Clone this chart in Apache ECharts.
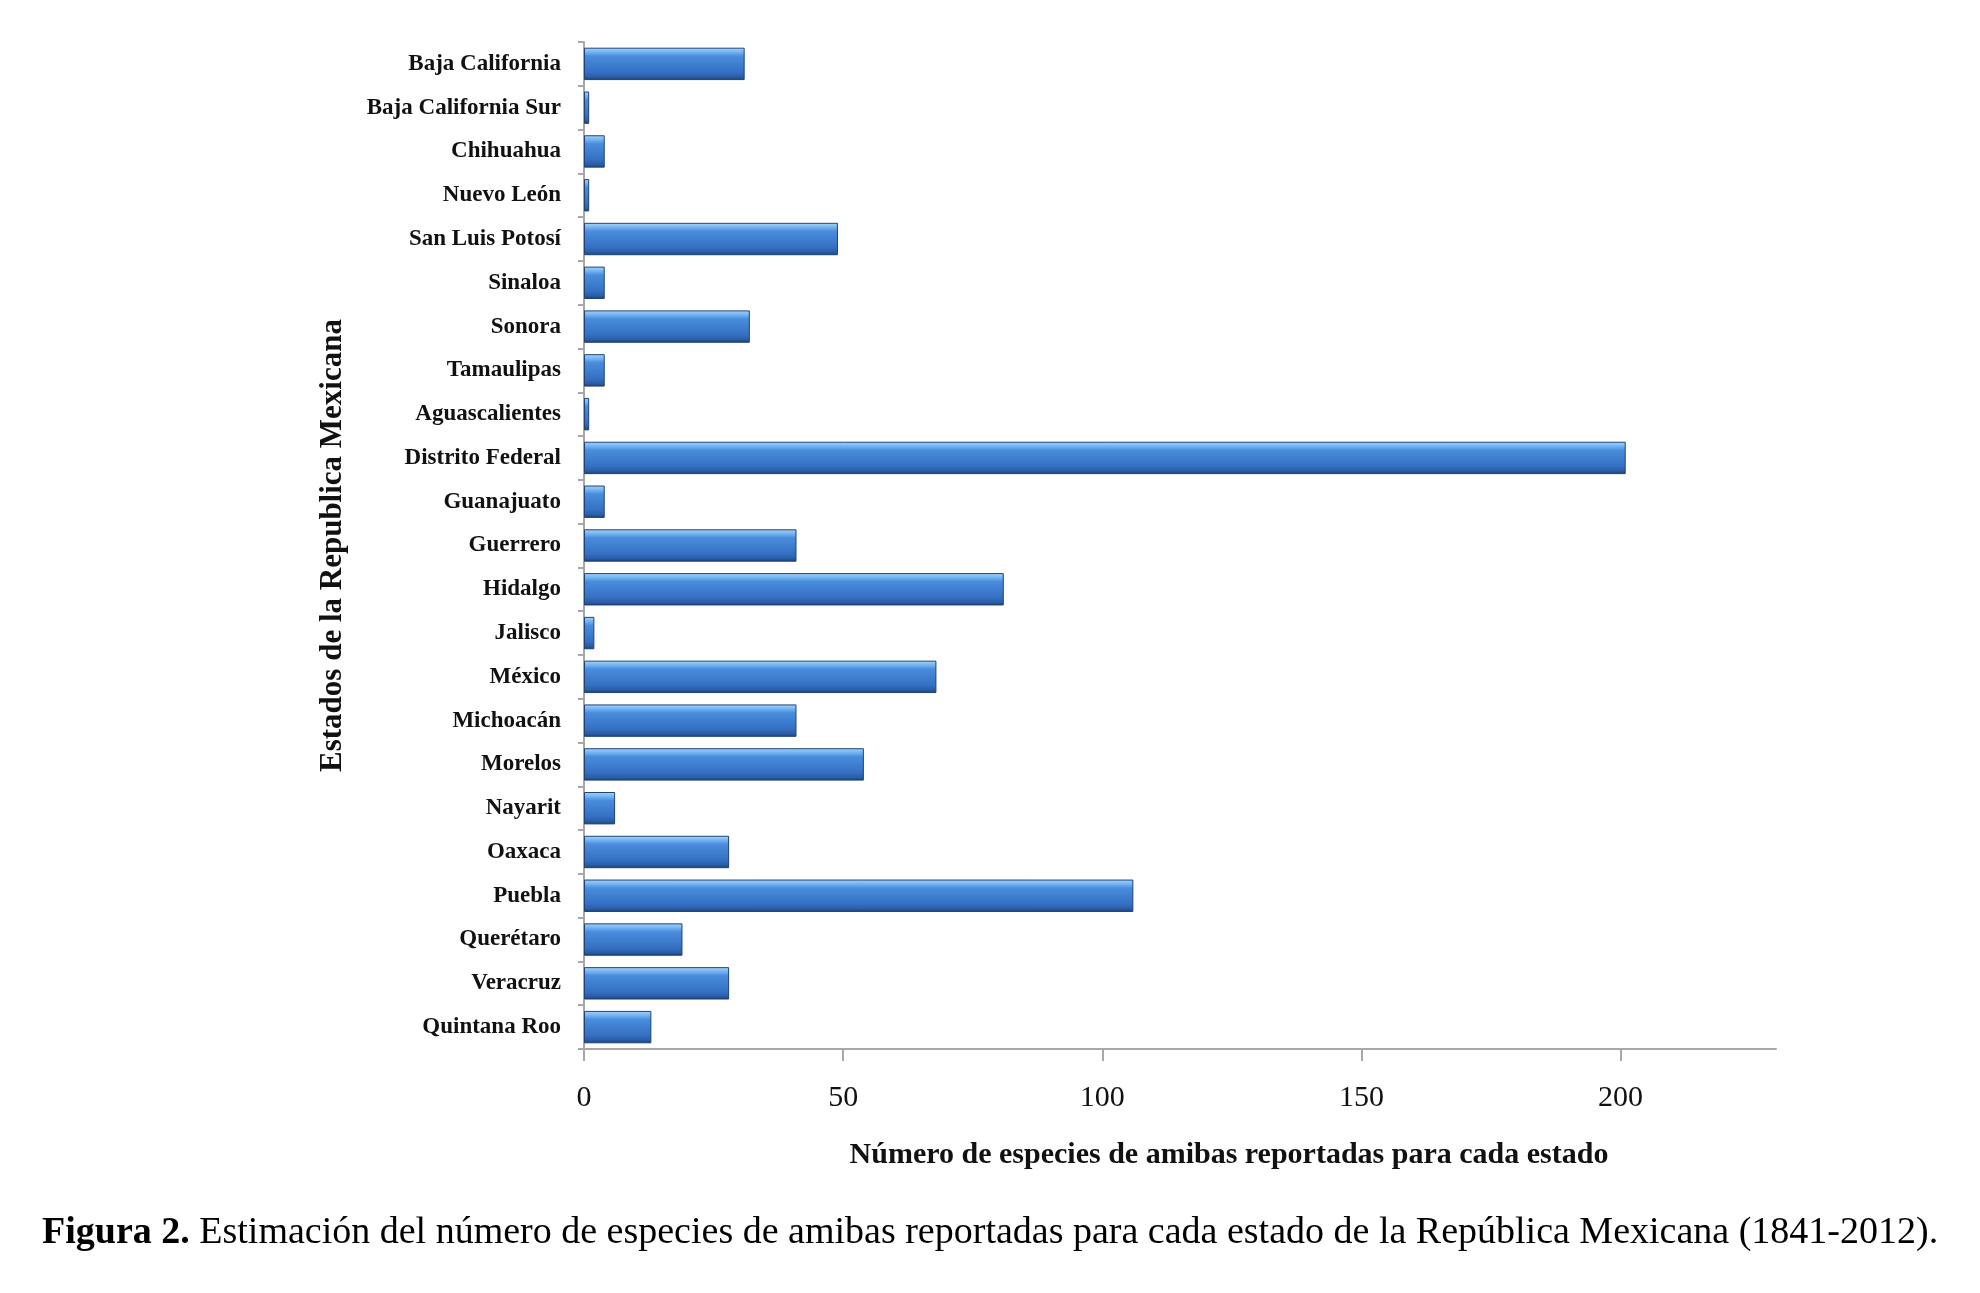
<!DOCTYPE html>
<html>
<head>
<meta charset="utf-8">
<script src="https://cdn.jsdelivr.net/npm/echarts@6/dist/echarts.min.js"></script>
<style>
html,body{margin:0;padding:0;background:#fff;}
#chart{width:1980px;height:1293px;}
</style>
</head>
<body>
<div id="chart"></div>
<script>
const categories = ["Baja California","Baja California Sur","Chihuahua","Nuevo León","San Luis Potosí","Sinaloa","Sonora","Tamaulipas","Aguascalientes","Distrito Federal","Guanajuato","Guerrero","Hidalgo","Jalisco","México","Michoacán","Morelos","Nayarit","Oaxaca","Puebla","Querétaro","Veracruz","Quintana Roo"];
const species = [31,1,4,1,49,4,32,4,1,201,4,41,81,2,68,41,54,6,28,106,19,28,13];
const xTicks = [0,50,100,150,200];
const xAxisTitle = "Número de especies de amibas reportadas para cada estado";
const yAxisTitle = "Estados de la Republica Mexicana";
const captionBold = "Figura 2.";
const captionText = " Estimación del número de especies de amibas reportadas para cada estado de la República Mexicana (1841-2012).";

const serif = "Liberation Serif";
const chart = echarts.init(document.getElementById('chart'));
chart.setOption({
  backgroundColor: '#ffffff',
  animation: false,
  title: {
    left: 42, top: 1214, padding: 0,
    text: '{b|' + captionBold + '}{r|' + captionText + '}',
    textStyle: {
      fontFamily: serif, fontSize: 38, fontWeight: 'normal', color: '#000',
      rich: {
        b: {fontFamily: serif, fontSize: 38, fontWeight: 'bold', color: '#000'},
        r: {fontFamily: serif, fontSize: 38, fontWeight: 'normal', color: '#000'}
      }
    }
  },
  grid: {left: 584, right: 204, top: 42, bottom: 244, containLabel: false},
  xAxis: {
    type: 'value', min: 0, max: 230, interval: 50,
    name: xAxisTitle, nameLocation: 'middle', nameGap: 91,
    nameTextStyle: {fontFamily: serif, fontSize: 30, fontWeight: 'bold', color: '#111', padding: [0,0,0,98]},
    axisLine: {show: true, lineStyle: {color: '#a8a8a8', width: 2}},
    axisTick: {show: true, length: 12, lineStyle: {color: '#a8a8a8', width: 2}, customValues: xTicks},
    axisLabel: {fontFamily: serif, fontSize: 30, color: '#111', margin: 34, customValues: xTicks},
    splitLine: {show: false}
  },
  yAxis: {
    type: 'category', data: categories, inverse: true,
    name: yAxisTitle, nameLocation: 'middle', nameGap: 236, nameRotate: 90,
    nameTextStyle: {fontFamily: serif, fontSize: 31, fontWeight: 'bold', color: '#111'},
    axisLine: {show: true, lineStyle: {color: '#a8a8a8', width: 2}},
    axisTick: {show: true, length: 6, lineStyle: {color: '#a8a8a8', width: 2}},
    axisLabel: {fontFamily: serif, fontSize: 23, color: '#111', margin: 23, fontWeight: 'bold'}
  },
  series: [{
    type: 'bar', data: species, barCategoryGap: '26%',
    itemStyle: {
      borderColor: '#1f4377', borderWidth: 1,
      color: new echarts.graphic.LinearGradient(0, 0, 0, 1, [
        {offset: 0, color: '#a6d4fa'},
        {offset: 0.14, color: '#73b3f2'},
        {offset: 0.26, color: '#4a8ddc'},
        {offset: 0.75, color: '#3570c3'},
        {offset: 0.9, color: '#2a5ea6'},
        {offset: 1, color: '#1d3f70'}
      ])
    }
  }]
});
</script>
</body>
</html>
